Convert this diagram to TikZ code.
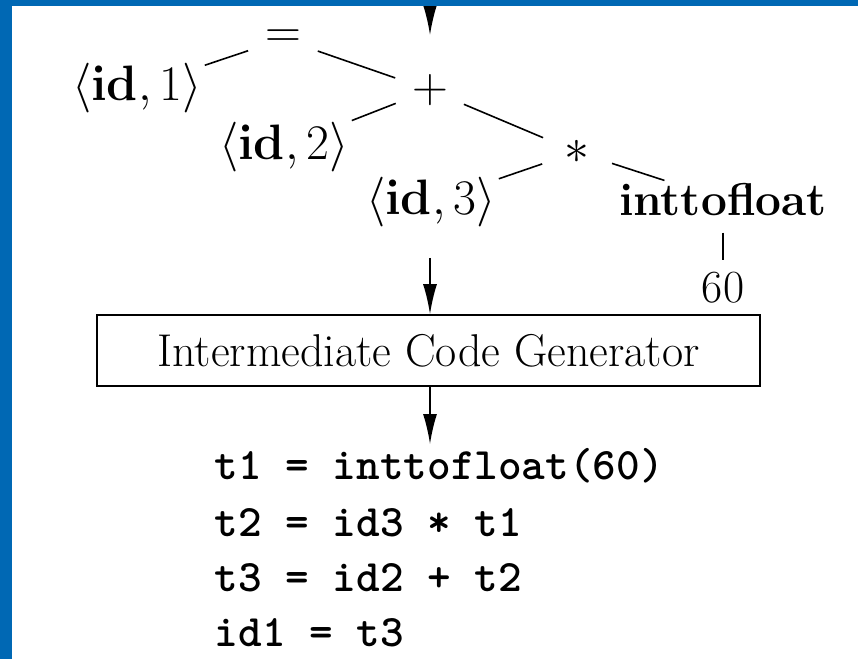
\documentclass[tikz,border=0pt]{standalone}
\usetikzlibrary{arrows.meta}
\definecolor{frameblue}{RGB}{0,104,180}
\tikzset{
  op/.style={circle, minimum size=36pt, inner sep=0pt},
  leaf/.style={inner sep=1pt},
  phase/.style={draw, line width=0.8pt, minimum width=331.5pt, minimum height=35.5pt, inner sep=0pt},
  code/.style={inner sep=2pt, font=\ttfamily\bfseries\fontsize{22.5}{27}\selectfont},
  arr/.style={-{Latex[length=15pt,width=7pt]}, line width=0.8pt},
}
\begin{document}
\begin{tikzpicture}[x=0.5pt, y=0.5pt, line width=0.8pt, font=\fontsize{23}{27}\selectfont]
  \useasboundingbox (0,0) rectangle (858,659);
  \node[op] (eq) at (283,620) {$=$};
  \node[leaf] (id1) at (137,571) {$\langle \mathbf{id}, 1\rangle$};
  \node[op] (plus) at (430,569) {$+$};
  \node[leaf] (id2) at (284,512) {$\langle \mathbf{id}, 2\rangle$};
  \node[op] (times) at (577,507) {$*$};
  \node[leaf] (id3) at (431,457) {$\langle \mathbf{id}, 3\rangle$};
  \node[leaf] (itof) at (723,459.5) {\textbf{inttofloat}};
  \node[leaf] (sixty) at (723,371) {60};
  \draw (eq) -- (id1) (eq) -- (plus)
        (plus) -- (id2) (plus) -- (times)
        (times) -- (id3) (times) -- (itof);
  \draw[shorten <=7pt, shorten >=5pt] (itof) -- (sixty);

  \node[phase] (icg) at (428.5,308.5) {Intermediate Code Generator};
  \foreach \i/\y/\txt in {1/179/{t1 = inttofloat(60)}, 2/122/{t2 = id3 * t1},
      3/67/{t3 = id2 + t2}, 4/12/{id1 = t3}}
    \node[code, anchor=base west] (c\i) at (210,\y) {\txt};

  \coordinate (from) at (430,672);
  \coordinate (tree) at (430,624);
  \coordinate (treeout) at (430,401);
  \draw[arr] (from) -- (tree);
  \draw[arr] (treeout) -- (treeout |- icg.north);
  \draw[arr] (treeout |- icg.south) -- (treeout |- c1.north);

  \fill[frameblue] (0,0) rectangle (12,659);
  \fill[frameblue] (0,653) rectangle (858,659);
\end{tikzpicture}
\end{document}
